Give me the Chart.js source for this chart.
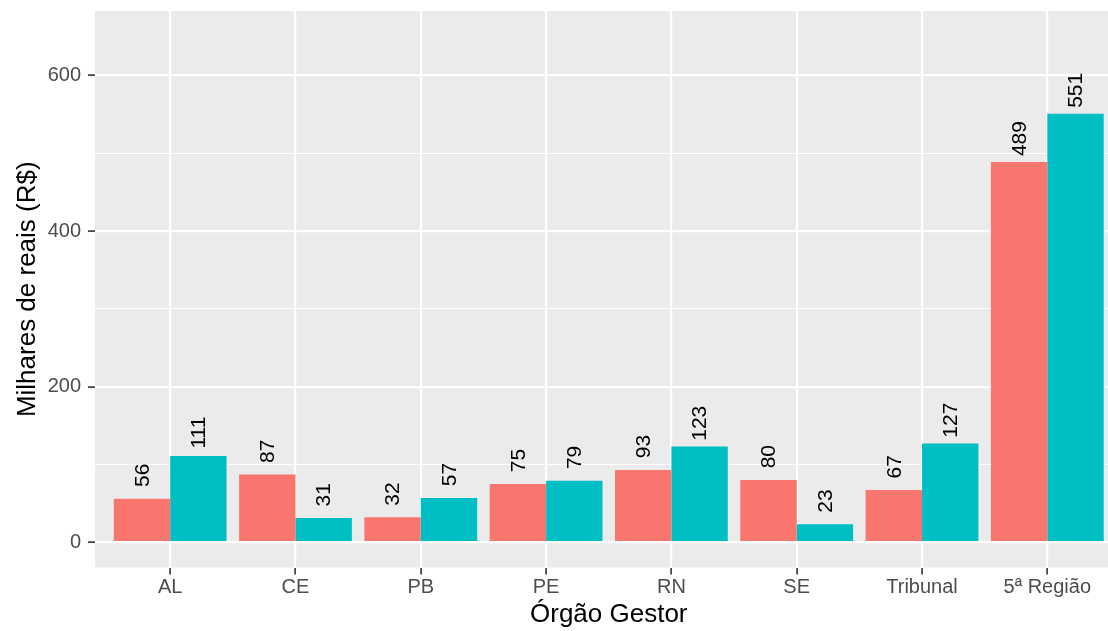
<!DOCTYPE html>
<html>
<head>
<meta charset="utf-8">
<script src="https://cdn.jsdelivr.net/npm/chart.js@4"></script>
<style>
    html, body { margin: 0; padding: 0; background: #ffffff; overflow: hidden; }
    #wrap { width: 1130px; height: 631px; }
</style>
</head>
<body>
<div id="wrap"><canvas id="chart" width="1130" height="631"></canvas></div>
<script>
// data
const categories = ['AL', 'CE', 'PB', 'PE', 'RN', 'SE', 'Tribunal', '5ª Região'];
const serie1 = [56, 87, 32, 75, 93, 80, 67, 489];
const serie2 = [111, 31, 57, 79, 123, 23, 127, 551];
const yTicks = [0, 100, 200, 300, 400, 500, 600];
const yTickLabels = [0, 200, 400, 600];

const RED = '#F8766D';
const TEAL = '#00BFC4';
const FONT = '"Liberation Sans", Arial, sans-serif';

// grey ggplot panel behind the chart area
const panelBg = {
    id: 'panelBg',
    beforeDraw(chart) {
        const { ctx, chartArea: a } = chart;
        ctx.save();
        ctx.fillStyle = '#EBEBEB';
        ctx.fillRect(a.left, a.top, a.right - a.left, a.bottom - a.top);
        ctx.restore();
    }
};

// rotated value labels above each bar
const valueLabels = {
    id: 'valueLabels',
    afterDatasetsDraw(chart) {
        const { ctx } = chart;
        const yScale = chart.scales.y;
        ctx.save();
        ctx.fillStyle = '#000000';
        ctx.font = '21px ' + FONT;
        ctx.textAlign = 'center';
        ctx.textBaseline = 'middle';
        chart.data.datasets.forEach((ds, di) => {
            chart.getDatasetMeta(di).data.forEach((bar, i) => {
                const v = ds.data[i].y;
                const y = yScale.getPixelForValue(v + 30);
                ctx.save();
                ctx.translate(bar.x, y);
                ctx.rotate(-Math.PI / 2);
                ctx.fillText(String(v), 0, 1);
                ctx.restore();
            });
        });
        ctx.restore();
    }
};

const ctx = document.getElementById('chart').getContext('2d');
new Chart(ctx, {
    type: 'bar',
    data: {
        datasets: [
            {
                label: 'Série 1',
                data: serie1.map((v, i) => ({ x: i + 1, y: v })),
                backgroundColor: RED,
                borderWidth: 0
            },
            {
                label: 'Série 2',
                data: serie2.map((v, i) => ({ x: i + 1, y: v })),
                backgroundColor: TEAL,
                borderWidth: 0
            }
        ]
    },
    options: {
        responsive: false,
        animation: false,
        events: [],
        layout: { padding: { top: 11, right: 7.5, left: 0, bottom: 0 } },
        datasets: { bar: { categoryPercentage: 0.9, barPercentage: 1.0 } },
        plugins: { legend: { display: false }, tooltip: { enabled: false } },
        scales: {
            x: {
                type: 'linear',
                min: 0.4,
                max: 8.6,
                offset: false,
                afterBuildTicks: s => { s.ticks = categories.map((c, i) => ({ value: i + 1 })); },
                afterFit: s => { s.height = 63.5; s.paddingLeft = 0; s.paddingRight = 0; },
                ticks: {
                    autoSkip: false,
                    maxRotation: 0,
                    padding: 1,
                    color: '#4D4D4D',
                    font: { family: FONT, size: 20 },
                    callback: v => categories[Math.round(v) - 1]
                },
                grid: {
                    offset: false,
                    color: '#FFFFFF',
                    lineWidth: 2.2,
                    tickColor: '#333333',
                    tickLength: 7,
                    tickWidth: 1.6
                },
                border: { display: false },
                title: {
                    display: true,
                    text: 'Órgão Gestor',
                    color: '#000000',
                    font: { family: FONT, size: 26 },
                    padding: { top: 0, bottom: 1 }
                }
            },
            y: {
                min: -32.5,
                max: 683,
                afterBuildTicks: s => { s.ticks = yTicks.map(v => ({ value: v })); },
                afterFit: s => { s.width = 95; s.paddingTop = 0; s.paddingBottom = 0; },
                ticks: {
                    padding: 7,
                    color: '#4D4D4D',
                    font: { family: FONT, size: 20 },
                    callback: v => yTickLabels.includes(v) ? String(v) : ''
                },
                grid: {
                    color: '#FFFFFF',
                    lineWidth: c => (c.tick && c.tick.value % 200 === 0) ? 2.2 : 1.1,
                    tickColor: c => (c.tick && c.tick.value % 200 === 0) ? '#333333' : 'rgba(0,0,0,0)',
                    tickLength: 7,
                    tickWidth: 1.6
                },
                border: { display: false },
                title: {
                    display: true,
                    text: 'Milhares de reais (R$)',
                    color: '#000000',
                    font: { family: FONT, size: 26 },
                    padding: { top: 12, bottom: 0 }
                }
            }
        }
    },
    plugins: [panelBg, valueLabels]
});
</script>
</body>
</html>
